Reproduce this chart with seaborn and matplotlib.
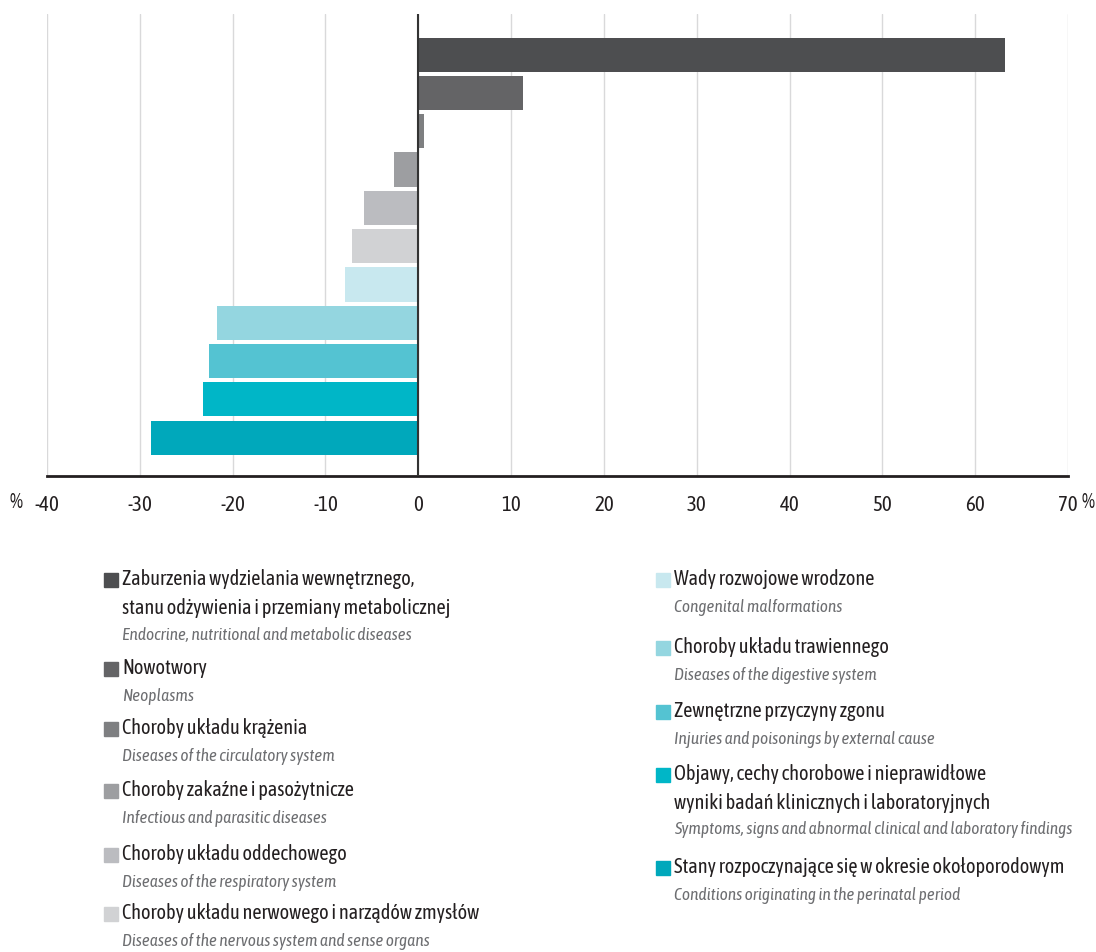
# -*- coding: utf-8 -*-
import numpy as np
import pandas as pd
import matplotlib.pyplot as plt
from matplotlib.patches import Rectangle
import seaborn as sns

# %% data
names_pl = ['Zaburzenia wydzielania wewnętrznego,\nstanu odżywienia i przemiany metabolicznej',
            'Nowotwory',
            'Choroby układu krążenia',
            'Choroby zakaźne i pasożytnicze',
            'Choroby układu oddechowego',
            'Choroby układu nerwowego i narządów zmysłów',
            'Wady rozwojowe wrodzone',
            'Choroby układu trawiennego',
            'Zewnętrzne przyczyny zgonu',
            'Objawy, cechy chorobowe i nieprawidłowe\nwyniki badań klinicznych i laboratoryjnych',
            'Stany rozpoczynające się w okresie okołoporodowym']
names_en = ['Endocrine, nutritional and metabolic diseases',
            'Neoplasms',
            'Diseases of the circulatory system',
            'Infectious and parasitic diseases',
            'Diseases of the respiratory system',
            'Diseases of the nervous system and sense organs',
            'Congenital malformations',
            'Diseases of the digestive system',
            'Injuries and poisonings by external cause',
            'Symptoms, signs and abnormal clinical and laboratory findings',
            'Conditions originating in the perinatal period']
change = [63.2, 11.3, 0.6, -2.6, -5.9, -7.1, -7.9, -21.7, -22.5, -23.2, -28.8]
colors = ['#4d4e50', '#646466', '#7e7f81', '#9d9ea1', '#bbbcc0', '#d1d2d4',
          '#c8e8ef', '#94d6e0', '#54c3d2', '#00b6c7', '#00a8bb']
xticks = [-40, -30, -20, -10, 0, 10, 20, 30, 40, 50, 60, 70]

df = pd.DataFrame({'name': names_en, 'change': change})

# %% style
sns.set_theme(style='white')
plt.rcParams['font.family'] = ['Asap Condensed', 'DejaVu Sans']
plt.rcParams['font.stretch'] = 'condensed'

W, H = 1096, 953
fig = plt.figure(figsize=(W / 100, H / 100), dpi=100)
ax = fig.add_axes([47 / W, 1 - 477 / H, (1068 - 47) / W, (477 - 15) / H])

for x in xticks:
    ax.axvline(x, color='#d9d9da', lw=1, zorder=0)

sns.barplot(data=df, x='change', y='name', hue='name', palette=colors,
            orient='h', width=0.89, saturation=1, linewidth=0,
            legend=False, ax=ax, zorder=2)
ax.axvline(0, color='#333333', lw=1.5, zorder=3)

ax.set_xlim(-40, 70)
ax.set_ylim(11.0, -1.06)
ax.set_xticks(xticks)
ax.set_xticklabels([str(t) for t in xticks], fontsize=15, color='#231f20')
ax.set_yticks([])
ax.set_xlabel('')
ax.set_ylabel('')
ax.tick_params(axis='x', length=0, pad=13)
for s in ['top', 'right', 'left']:
    ax.spines[s].set_visible(False)
ax.spines['bottom'].set_color('#231f20')
ax.spines['bottom'].set_linewidth(2)
fig.text(16 / W, 1 - 502 / H, '%', fontsize=15, color='#231f20', ha='center', va='center')
fig.text(1088 / W, 1 - 502 / H, '%', fontsize=15, color='#231f20', ha='center', va='center')

# %% legend drawn by hand in two columns
leg_x = [104] * 6 + [656] * 5
leg_y = [581, 670, 730, 792, 856, 915, 581, 649, 713, 776, 869]
for i in range(len(names_pl)):
    x0, y0 = leg_x[i], leg_y[i]
    fig.patches.append(Rectangle((x0 / W, 1 - (y0 + 7) / H), 14 / W, 14 / H,
                                 transform=fig.transFigure, color=colors[i]))
    nlines = names_pl[i].count('\n') + 1
    fig.text((x0 + 18) / W, 1 - (y0 - 12) / H, names_pl[i], fontsize=14.6,
             color='#231f20', ha='left', va='top', linespacing=1.55)
    fig.text((x0 + 18) / W, 1 - (y0 + 27 * nlines) / H, names_en[i], fontsize=12.5,
             style='italic', color='#6d6e71', ha='left', va='center')

plt.savefig('out.png', dpi=100)
